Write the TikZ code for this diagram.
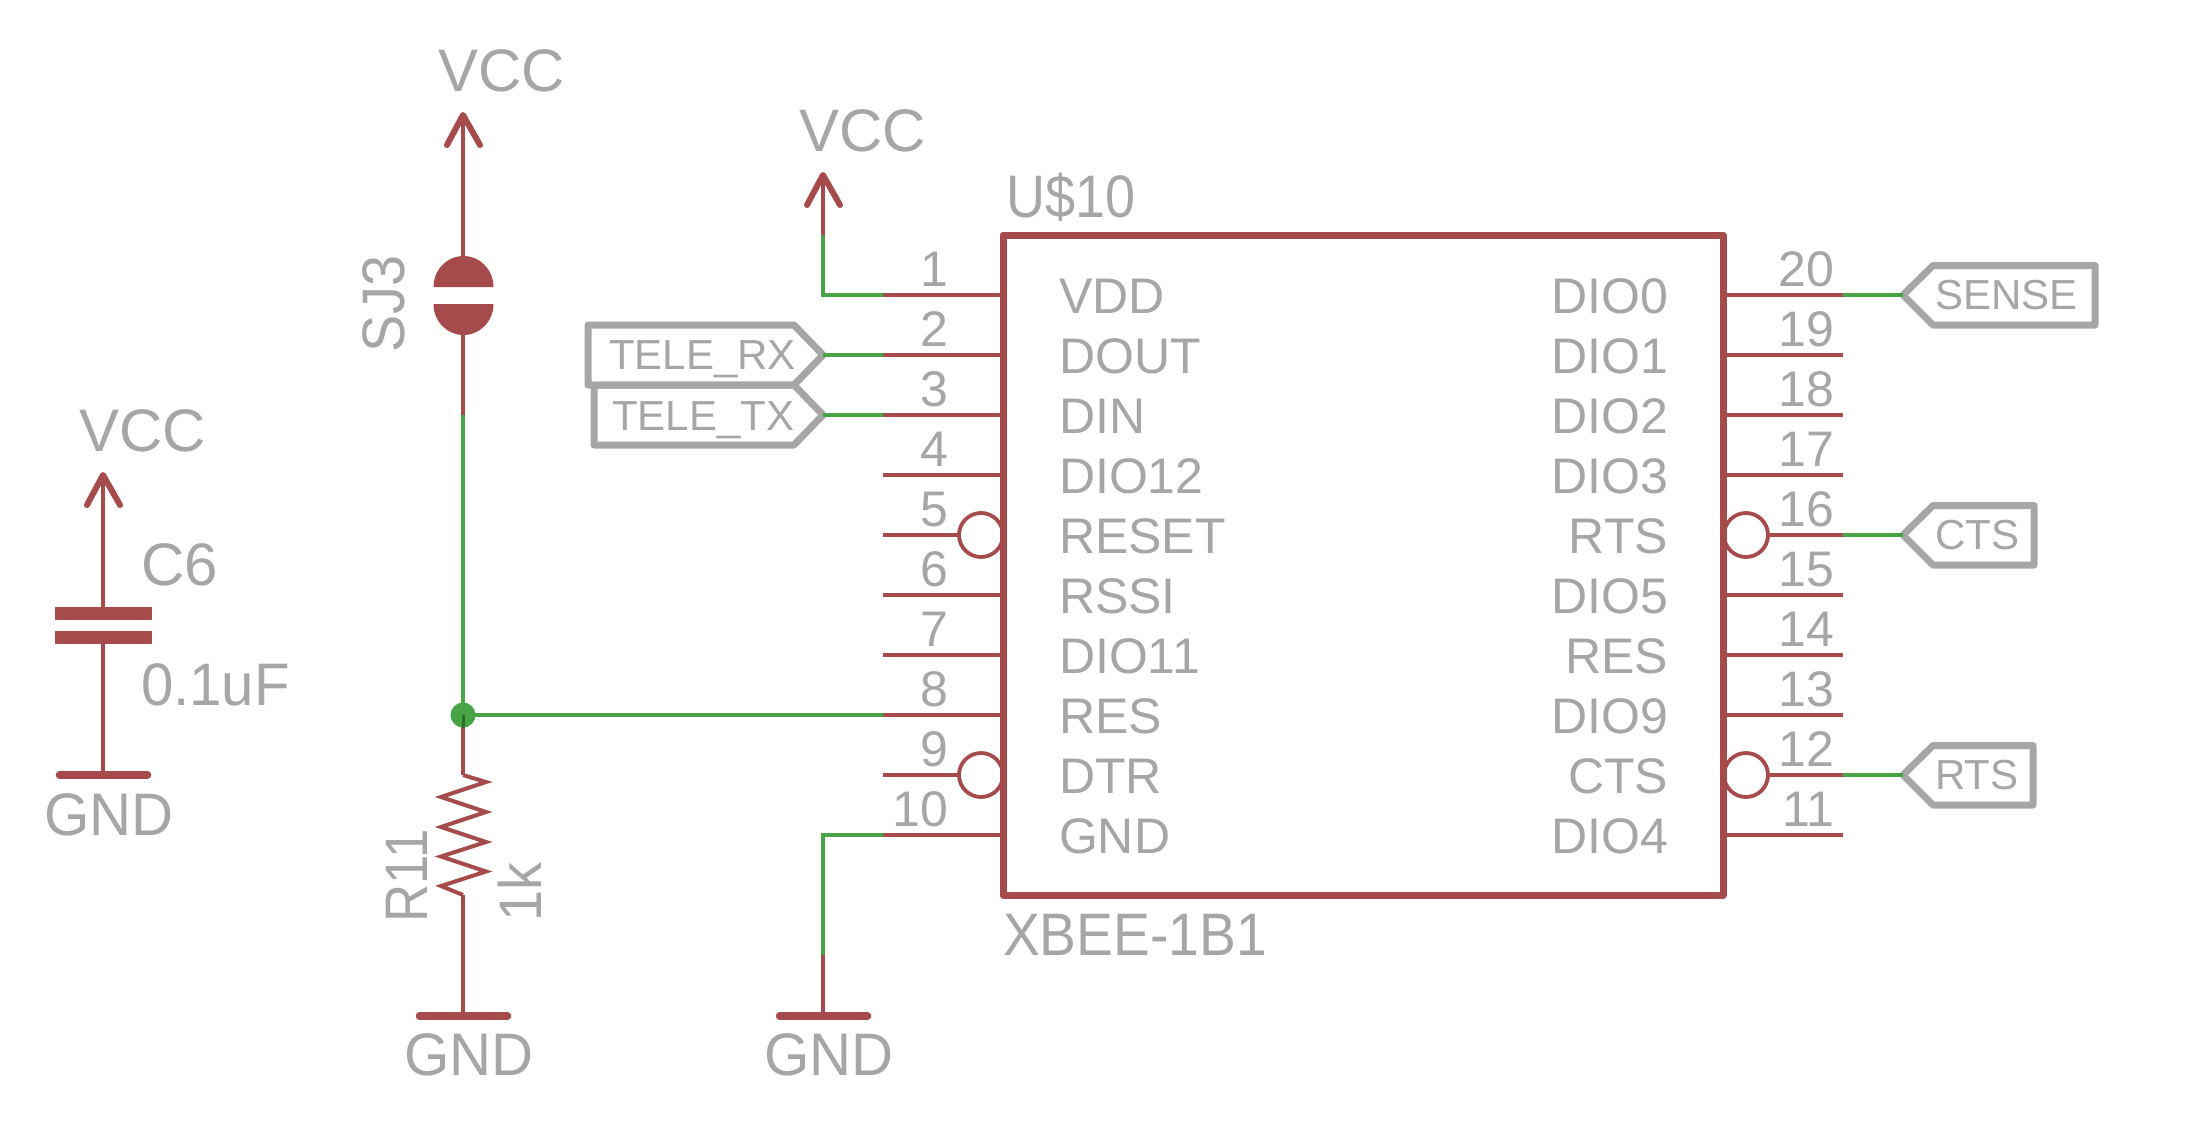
\documentclass[tikz,border=0pt]{standalone}
\usepackage{fontspec}
\setmainfont{Liberation Sans}
\definecolor{sred}{HTML}{A54B4B}
\definecolor{sgreen}{HTML}{47A547}
\definecolor{sgray}{HTML}{A6A6A6}
\definecolor{sdark}{HTML}{2F6B2A}
\tikzset{
  sym/.style={draw=sred,line width=4pt,line cap=butt,line join=round},
  wire/.style={draw=sgreen,line width=4pt,line join=miter},
  barb/.style={draw=sred,line width=6pt,line cap=round,line join=round},
  gndbar/.style={draw=sred,line width=7.5pt,line cap=round},
  plate/.style={fill=sred,draw=none},
  tagbox/.style={draw=sgray,line width=7pt,line join=round,line cap=round},
  big/.style={text=sgray,inner sep=0pt,outer sep=0pt,font=\fontsize{60}{60}\selectfont},
  pinname/.style={text=sgray,inner sep=0pt,outer sep=0pt,font=\fontsize{50}{50}\selectfont},
  tagtext/.style={text=sgray,inner sep=0pt,outer sep=0pt,font=\fontsize{42}{42}\selectfont},
  ic/.style={draw=sred,line width=7pt,line join=round,rectangle,minimum width=720pt,minimum height=660pt,inner sep=0pt,outer sep=0pt},
  bubble/.style={draw=sred,line width=3.8pt,circle,minimum size=44pt,inner sep=0pt,outer sep=0pt}
}
\begin{document}
\begin{tikzpicture}[x=1pt,y=-1pt]
\path[use as bounding box,fill=white] (0,0) rectangle (2210,1124);

% IC
\node[ic] (U) at (1363,565) {};
\node[big,anchor=base west] (ULabel) at (1006,217) {\scalebox{0.9}[1]{U\$10}};
\node[big,anchor=base west] (UValue) at (1003,955) {\scalebox{0.92}[1]{XBEE-1B1}};

% pins (left)
\foreach \n/\y/\lab in {1/295/VDD,2/355/DOUT,3/415/DIN,4/475/DIO12,5/535/RESET,6/595/RSSI,7/655/DIO11,8/715/RES,9/775/DTR,10/835/GND}{
  \coordinate (P\n) at (883,\y);
  \coordinate (Q\n) at (1003,\y);
  \node[pinname,anchor=base east] (N\n) at (948,\y-9) {\n};
  \node[pinname,anchor=base west] (T\n) at (1059,\y+18) {\lab};
}
% pins (right)
\foreach \n/\y/\lab in {20/295/DIO0,19/355/DIO1,18/415/DIO2,17/475/DIO3,16/535/RTS,15/595/DIO5,14/655/RES,13/715/DIO9,12/775/CTS,11/835/DIO4}{
  \coordinate (P\n) at (1843,\y);
  \coordinate (Q\n) at (1723,\y);
  \node[pinname,anchor=base east] (N\n) at (1834,\y-9) {\n};
  \node[pinname,anchor=base east] (T\n) at (1668,\y+18) {\lab};
}
\foreach \n in {1,2,3,4,6,7,8,10,20,19,18,17,15,14,13,11}{
  \draw[sym] (P\n) -- (Q\n);
}
% inverted pins
\node[bubble] (B5) at (981,535) {};
\node[bubble] (B9) at (981,775) {};
\node[bubble] (B16) at (1746,535) {};
\node[bubble] (B12) at (1746,775) {};
\draw[sym] (P5) -- (B5.west);
\draw[sym] (P9) -- (B9.west);
\draw[sym] (P16) -- (B16.east);
\draw[sym] (P12) -- (B12.east);

% Left VCC + capacitor
\coordinate (V1) at (103,475);
\coordinate (V1l) at (87,505);
\coordinate (V1r) at (120,505);
\node[big,anchor=base west] (V1T) at (79,451) {VCC};
\node[big,anchor=base west] (C6T) at (141,585) {C6};
\node[big,anchor=base west] (C6V) at (141,705) {\scalebox{0.97}[1]{0.1uF}};
\fill[plate] (55,607) rectangle (152,620);
\fill[plate] (55,631) rectangle (152,644);
\coordinate (C1) at (103,607);
\coordinate (C2) at (103,644);
\coordinate (G1) at (103,775);
\draw[sym] (V1) -- (C1);
\draw[sym] (C2) -- (G1);
\draw[barb] (V1l) -- (V1) -- (V1r);
\draw[gndbar] (59.5,775) -- (147.5,775);
\node[big,anchor=base] (G1T) at (109,835) {\scalebox{0.97}[1]{GND}};

% Solder jumper
\coordinate (V2) at (463,115);
\coordinate (V2l) at (447,145);
\coordinate (V2r) at (480,145);
\node[big,anchor=base west] (V2T) at (438,91) {VCC};
\coordinate (SJa) at (463,256);
\coordinate (SJb) at (463,335);
\coordinate (SJc) at (463,415);
\draw[sym] (V2) -- (SJa);
\draw[barb] (V2l) -- (V2) -- (V2r);
\fill[plate] (433.5,287) arc[start angle=180,end angle=0,x radius=30,y radius=-31] -- cycle;
\fill[plate] (433.5,304) arc[start angle=180,end angle=360,x radius=30,y radius=-31] -- cycle;
\draw[sym] (SJb) -- (SJc);
\node[big,anchor=base,rotate=90] (SJT) at (404,304) {\scalebox{0.93}[1]{SJ3}};

% Junction and resistor
\coordinate (J) at (463,715);
\coordinate (Ra) at (463,775);
\coordinate (Rb) at (463,895);
\coordinate (G2) at (463,1016);
\draw[sym] (J) -- (Ra);
\draw[sym,miter limit=6,line join=miter] (Ra) -- (486,782) -- (441,797) -- (486,812) -- (441,827) -- (486,842) -- (441,856.5) -- (486,871.5) -- (441,886) -- (Rb);
\draw[sym] (Rb) -- (G2);
\draw[gndbar] (419.5,1016) -- (507.5,1016);
\node[big,anchor=base] (G2T) at (469,1075) {\scalebox{0.97}[1]{GND}};
\node[big,anchor=base,rotate=90] (R11T) at (427,876) {\scalebox{0.88}[1]{R11}};
\node[big,anchor=base,rotate=90] (R11V) at (541,892) {\scalebox{0.93}[1]{1k}};
\draw[wire] (SJc) -- (J);
\draw[wire] (J) -- (P8);
\fill[sgreen] (J) ellipse[x radius=12.5,y radius=12.5];
\draw[sdark,line width=3pt] (J) -- (463,728);

% Second VCC to pin 1
\coordinate (V3) at (823,175);
\coordinate (V3l) at (807,205);
\coordinate (V3r) at (840,205);
\coordinate (V3w) at (823,235);
\coordinate (W1) at (823,295);
\node[big,anchor=base west] (V3T) at (799,151) {VCC};
\draw[sym] (V3) -- (V3w);
\draw[barb] (V3l) -- (V3) -- (V3r);
\draw[wire] (V3w) -- (W1) -- (P1);

% GND to pin 10
\coordinate (G3) at (823,1016);
\coordinate (G3w) at (823,955);
\coordinate (W10) at (823,835);
\draw[sym] (G3w) -- (G3);
\draw[wire] (G3w) -- (W10) -- (P10);
\draw[gndbar] (779.5,1016) -- (867.5,1016);
\node[big,anchor=base] (G3T) at (829,1075) {\scalebox{0.97}[1]{GND}};

% Tags left
\coordinate (TipRX) at (823,355);
\coordinate (TipTX) at (823,415);
\draw[tagbox] (TipTX) -- (794,385) -- (594,385) -- (594,445) -- (794,445) -- cycle;
\draw[tagbox] (TipRX) -- (794,325) -- (588,325) -- (588,385) -- (794,385) -- cycle;
\node[tagtext,anchor=base west] (RXT) at (609,369.5) {TELE\_RX};
\node[tagtext,anchor=base west] (TXT) at (612,430) {TELE\_TX};
\draw[wire] (TipRX) -- (P2);
\draw[wire] (TipTX) -- (P3);

% Tags right
\coordinate (TipS) at (1903,295);
\coordinate (TipC) at (1903,535);
\coordinate (TipR) at (1903,775);
\draw[tagbox] (TipS) -- (1933,265.5) -- (2095,265.5) -- (2095,325) -- (1933,325) -- cycle;
\draw[tagbox] (TipC) -- (1933,505.5) -- (2034,505.5) -- (2034,565) -- (1933,565) -- cycle;
\draw[tagbox] (TipR) -- (1933,745.5) -- (2033,745.5) -- (2033,805) -- (1933,805) -- cycle;
\node[tagtext,anchor=base west] (ST) at (1935,309) {SENSE};
\node[tagtext,anchor=base west] (CT) at (1935,549) {CTS};
\node[tagtext,anchor=base west] (RT) at (1935,789) {RTS};
\draw[wire] (P20) -- (TipS);
\draw[wire] (P16) -- (TipC);
\draw[wire] (P12) -- (TipR);
\end{tikzpicture}
\end{document}
